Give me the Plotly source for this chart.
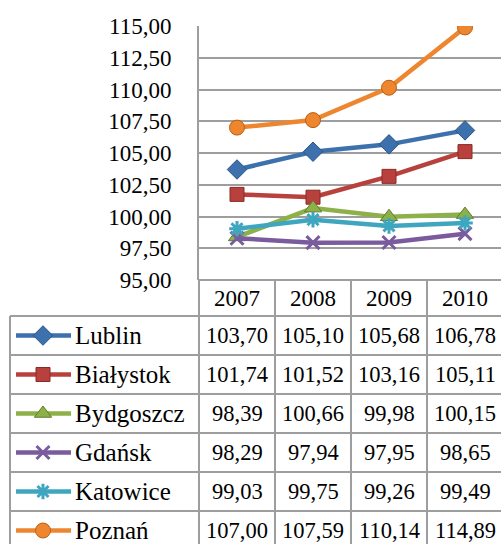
import plotly.graph_objects as go

# -----------------------------
# Data
# -----------------------------
years = ["2007", "2008", "2009", "2010"]
cities = ["Lublin", "Białystok", "Bydgoszcz", "Gdańsk", "Katowice", "Poznań"]

lublin = [103.70, 105.10, 105.68, 106.78]
bialystok = [101.74, 101.52, 103.16, 105.11]
bydgoszcz = [98.39, 100.66, 99.98, 100.15]
gdansk = [98.29, 97.94, 97.95, 98.65]
katowice = [99.03, 99.75, 99.26, 99.49]
poznan = [107.00, 107.59, 110.14, 114.89]

series = [lublin, bialystok, bydgoszcz, gdansk, katowice, poznan]
y_ticks = [95, 97.5, 100, 102.5, 105, 107.5, 110, 112.5, 115]

# -----------------------------
# Styles
# -----------------------------
colors = ["#3D71AD", "#B8413D", "#8DB048", "#7A5C9E", "#3FA6C0", "#EE8630"]
edges = ["#2C5488", "#8A2A27", "#5F7F2A", "#563F78", "#2A7F96", "#B85E14"]
symbols = ["diamond", "square", "triangle-up", "x-thin-open", "asterisk-open", "circle"]
sizes = [15, 14, 15, 13, 13, 15]

FONT = "Liberation Serif"
GRID = "#9E9E9E"
W, H = 501, 544

plot_left, plot_top, plot_bottom = 199, 26, 280
col_w = 76
table_left = 10
header_bottom = 316
row_h = 39

fig = go.Figure()

# -----------------------------
# Main line chart
# -----------------------------
for i, name in enumerate(cities):
    open_sym = symbols[i].endswith("open")
    fig.add_trace(go.Scatter(
        x=years, y=series[i], name=name, mode="lines+markers",
        line=dict(color=colors[i], width=4.5),
        marker=dict(
            symbol=symbols[i], size=sizes[i], color=colors[i],
            line=dict(color=colors[i] if open_sym else edges[i],
                      width=3 if open_sym else 1),
        ),
        xaxis="x", yaxis="y", showlegend=False,
    ))

# -----------------------------
# Data table (pixel overlay axes)
# -----------------------------
n_cols = len(years)
table_right = plot_left + n_cols * col_w
table_bottom = header_bottom + len(cities) * row_h

shapes = []
line_style = dict(color=GRID, width=2)
# vertical lines
shapes.append(dict(type="line", xref="x2", yref="y2", x0=table_left, x1=table_left,
                   y0=header_bottom, y1=table_bottom, line=line_style))
for c in range(n_cols + 1):
    xc = plot_left + c * col_w
    shapes.append(dict(type="line", xref="x2", yref="y2", x0=xc, x1=xc,
                       y0=plot_bottom, y1=table_bottom, line=line_style))
# horizontal lines
shapes.append(dict(type="line", xref="x2", yref="y2", x0=plot_left, x1=table_right,
                   y0=plot_bottom, y1=plot_bottom, line=line_style))
for r in range(len(cities) + 1):
    yr = header_bottom + r * row_h
    shapes.append(dict(type="line", xref="x2", yref="y2", x0=table_left, x1=table_right,
                       y0=yr, y1=yr, line=line_style))

annotations = []
for c, yr_label in enumerate(years):
    annotations.append(dict(
        xref="x2", yref="y2", x=plot_left + (c + 0.5) * col_w,
        y=(plot_bottom + header_bottom) / 2, text=yr_label, showarrow=False,
        xanchor="center", yanchor="middle", font=dict(family=FONT, size=23, color="black"),
    ))

for i, name in enumerate(cities):
    cy = header_bottom + (i + 0.5) * row_h
    open_sym = symbols[i].endswith("open")
    fig.add_trace(go.Scatter(
        x=[16, 71], y=[cy, cy], mode="lines",
        line=dict(color=colors[i], width=4.5),
        xaxis="x2", yaxis="y2", showlegend=False, hoverinfo="skip",
    ))
    fig.add_trace(go.Scatter(
        x=[43], y=[cy], mode="markers",
        marker=dict(
            symbol=symbols[i], size=sizes[i], color=colors[i],
            line=dict(color=colors[i] if open_sym else edges[i],
                      width=3 if open_sym else 1),
        ),
        xaxis="x2", yaxis="y2", showlegend=False, hoverinfo="skip",
    ))
    annotations.append(dict(
        xref="x2", yref="y2", x=73, y=cy, text=name, showarrow=False,
        xanchor="left", yanchor="middle", font=dict(family=FONT, size=25, color="black"),
    ))
    for c, v in enumerate(series[i]):
        annotations.append(dict(
            xref="x2", yref="y2", x=plot_left + (c + 0.5) * col_w, y=cy,
            text=f"{v:.2f}".replace(".", ","), showarrow=False,
            xanchor="center", yanchor="middle",
            font=dict(family=FONT, size=22.5, color="black"),
        ))

# -----------------------------
# Layout
# -----------------------------
fig.update_layout(
    width=W, height=H,
    margin=dict(l=0, r=0, t=0, b=0, pad=0, autoexpand=False),
    paper_bgcolor="white", plot_bgcolor="rgba(0,0,0,0)",
    separators=", ",
    font=dict(family=FONT, size=23, color="black"),
    xaxis=dict(
        type="category", domain=[plot_left / W, 1],
        range=[-0.5, (W - plot_left) / col_w - 0.5],
        showgrid=False, showticklabels=False, zeroline=False, fixedrange=True,
        automargin=False,
    ),
    yaxis=dict(
        domain=[(H - plot_bottom) / H, (H - plot_top) / H],
        range=[95, 115], tickvals=y_ticks, tickformat=".2f",
        showgrid=True, gridcolor=GRID, gridwidth=1.5,
        showline=True, linecolor=GRID, linewidth=2,
        ticks="", ticklabelstandoff=21, zeroline=False, fixedrange=True,
        automargin=False,
        tickfont=dict(family=FONT, size=23, color="black"),
    ),
    xaxis2=dict(domain=[0, 1], range=[0, W], visible=False, fixedrange=True,
                automargin=False),
    yaxis2=dict(domain=[0, 1], range=[H, 0], visible=False, fixedrange=True,
                automargin=False),
    shapes=shapes,
    annotations=annotations,
)

fig.write_html("out.html", config={"displayModeBar": False},
               post_script="document.body.style.margin='0';")
